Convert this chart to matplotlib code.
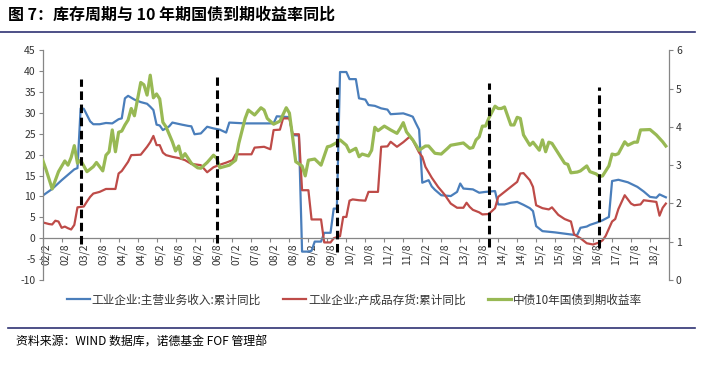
import matplotlib
matplotlib.use("Agg")
import matplotlib.pyplot as plt
import matplotlib.transforms as mtransforms
from matplotlib.lines import Line2D
import pandas as pd

plt.rcParams["font.family"] = ["Noto Sans CJK SC", "DejaVu Sans"]
plt.rcParams["axes.unicode_minus"] = False

START = pd.Period("2002-02", freq="M")

# 工业企业:主营业务收入:累计同比 (%)
rev_dates = [
    "2002-02", "2002-05", "2002-08", "2002-12", "2003-01", "2003-02", "2003-03", "2003-05",
    "2003-06", "2003-08", "2003-10", "2003-12", "2004-02", "2004-03", "2004-04", "2004-05",
    "2004-07", "2004-09", "2004-11", "2004-12", "2005-01", "2005-02", "2005-03", "2005-04",
    "2005-06", "2005-07", "2005-10", "2005-12", "2006-01", "2006-02", "2006-04", "2006-06",
    "2006-08", "2006-10", "2006-12", "2007-01", "2007-06", "2008-03", "2008-04", "2008-08",
    "2008-09", "2008-11", "2008-12", "2009-02", "2009-03", "2009-04", "2009-06", "2009-07",
    "2009-09", "2009-10", "2009-11", "2009-12", "2010-02", "2010-03", "2010-05", "2010-06",
    "2010-08", "2010-09", "2010-11", "2011-01", "2011-03", "2011-04", "2011-08", "2011-10",
    "2011-11", "2011-12", "2012-01", "2012-02", "2012-03", "2012-04", "2012-05", "2012-06",
    "2012-08", "2012-11", "2013-01", "2013-02", "2013-03", "2013-06", "2013-08", "2013-10",
    "2014-01", "2014-02", "2014-04", "2014-06", "2014-08", "2014-10", "2014-12", "2015-01",
    "2015-02", "2015-04", "2015-08", "2015-11", "2016-02", "2016-03", "2016-04", "2016-06",
    "2016-07", "2016-09", "2016-11", "2017-01", "2017-02", "2017-04", "2017-07", "2017-10",
    "2017-12", "2018-02", "2018-04", "2018-05", "2018-07",
]
rev_values = [
    10.2, 11.8, 13.9, 16.5, 16.8, 31.1, 31.0, 28.0,
    27.3, 27.3, 27.6, 27.5, 28.5, 28.7, 33.5, 34.1,
    33.2, 32.6, 32.2, 31.5, 30.7, 27.2, 27.0, 25.9,
    26.8, 27.7, 27.2, 26.9, 26.8, 24.9, 25.1, 26.7,
    26.3, 26.0, 25.3, 27.7, 27.5, 27.5, 29.2, 29.0,
    24.7, 24.6, -3.2, -3.2, -3.0, -0.8, -0.8, 1.3,
    1.3, 7.1, 7.1, 39.8, 39.8, 38.1, 38.1, 33.5,
    33.2, 31.9, 31.7, 31.1, 30.8, 29.7, 29.9, 29.4,
    29.1, 27.5, 26.0, 13.3, 13.6, 13.9, 12.4, 11.6,
    10.3, 10.1, 11.1, 13.1, 11.9, 11.7, 10.9, 11.1,
    11.3, 8.1, 8.1, 8.5, 8.7, 8.0, 7.2, 6.5,
    2.9, 1.7, 1.4, 1.1, 0.8, 0.8, 2.5, 2.8,
    3.2, 3.7, 4.3, 5.1, 13.7, 14.0, 13.4, 12.3,
    11.2, 9.9, 9.7, 10.5, 9.8,
]

# 工业企业:产成品存货:累计同比 (%)
inv_dates = [
    "2002-02", "2002-04", "2002-05", "2002-06", "2002-07", "2002-08", "2002-09", "2002-10",
    "2002-11", "2002-12", "2003-01", "2003-03", "2003-04", "2003-05", "2003-06", "2003-08",
    "2003-10", "2004-01", "2004-02", "2004-03", "2004-05", "2004-06", "2004-09", "2004-11",
    "2004-12", "2005-01", "2005-02", "2005-03", "2005-04", "2005-05", "2005-07", "2005-09",
    "2005-11", "2006-01", "2006-04", "2006-06", "2006-08", "2006-10", "2006-12", "2007-02",
    "2007-03", "2007-08", "2007-09", "2007-12", "2008-02", "2008-03", "2008-05", "2008-06",
    "2008-08", "2008-09", "2008-11", "2008-12", "2009-02", "2009-03", "2009-06", "2009-07",
    "2009-09", "2009-10", "2009-12", "2010-01", "2010-02", "2010-03", "2010-04", "2010-06",
    "2010-08", "2010-09", "2010-12", "2011-01", "2011-03", "2011-04", "2011-06", "2011-08",
    "2011-10", "2011-11", "2011-12", "2012-01", "2012-02", "2012-03", "2012-05", "2012-07",
    "2012-09", "2012-11", "2013-01", "2013-03", "2013-04", "2013-05", "2013-06", "2013-08",
    "2013-09", "2013-11", "2014-01", "2014-02", "2014-04", "2014-06", "2014-08", "2014-09",
    "2014-10", "2014-12", "2015-01", "2015-02", "2015-04", "2015-06", "2015-07", "2015-09",
    "2015-11", "2016-01", "2016-02", "2016-04", "2016-06", "2016-08", "2016-10", "2016-11",
    "2016-12", "2017-02", "2017-03", "2017-04", "2017-06", "2017-08", "2017-09", "2017-11",
    "2017-12", "2018-04", "2018-05", "2018-06", "2018-07",
]
inv_values = [
    3.8, 3.4, 3.3, 4.2, 4.0, 2.5, 2.8, 2.4,
    2.1, 3.2, 7.4, 7.6, 8.8, 9.9, 10.7, 11.1,
    11.8, 11.8, 15.5, 16.1, 18.3, 19.9, 20.0, 21.9,
    23.0, 24.5, 22.3, 22.3, 20.5, 19.9, 19.5, 19.2,
    18.7, 17.8, 17.5, 15.8, 17.0, 17.6, 18.1, 18.7,
    20.1, 20.1, 21.7, 21.9, 21.3, 25.9, 26.0, 28.7,
    28.7, 24.9, 24.9, 11.5, 11.5, 4.5, 4.5, -1.0,
    -1.0, 0.0, 0.5, 5.1, 5.1, 9.0, 9.3, 9.1,
    9.0, 11.1, 11.1, 21.9, 22.0, 23.1, 21.9, 23.0,
    24.3, 23.5, 22.0, 20.5, 19.5, 17.1, 14.5, 12.3,
    10.5, 8.3, 7.3, 7.3, 8.5, 7.5, 6.8, 6.2,
    5.7, 5.8, 7.2, 9.9, 11.1, 12.3, 13.5, 15.5,
    15.6, 13.9, 12.3, 7.9, 7.2, 6.9, 7.4, 5.6,
    4.6, 4.0, 0.9, 0.0, -1.2, -1.5, -1.0, -0.5,
    0.6, 4.0, 4.6, 7.0, 10.3, 8.3, 7.9, 8.1,
    9.1, 8.7, 5.4, 7.3, 8.3,
]

# 中债10年国债到期收益率 (%, right axis)
bond_dates = [
    "2002-02", "2002-03", "2002-05", "2002-07", "2002-09", "2002-10", "2002-11", "2002-12",
    "2003-01", "2003-02", "2003-04", "2003-06", "2003-07", "2003-09", "2003-10", "2003-11",
    "2003-12", "2004-01", "2004-02", "2004-03", "2004-04", "2004-05", "2004-06", "2004-07",
    "2004-09", "2004-10", "2004-11", "2004-12", "2005-01", "2005-02", "2005-03", "2005-04",
    "2005-05", "2005-07", "2005-08", "2005-09", "2005-10", "2005-11", "2006-01", "2006-03",
    "2006-04", "2006-06", "2006-08", "2006-09", "2006-10", "2007-01", "2007-03", "2007-04",
    "2007-06", "2007-07", "2007-09", "2007-11", "2007-12", "2008-01", "2008-03", "2008-05",
    "2008-07", "2008-08", "2008-09", "2008-10", "2008-12", "2009-01", "2009-02", "2009-04",
    "2009-06", "2009-08", "2009-09", "2009-11", "2009-12", "2010-02", "2010-03", "2010-05",
    "2010-06", "2010-07", "2010-09", "2010-10", "2010-11", "2010-12", "2011-02", "2011-04",
    "2011-06", "2011-07", "2011-08", "2011-09", "2011-11", "2012-01", "2012-03", "2012-04",
    "2012-06", "2012-08", "2012-10", "2012-11", "2013-01", "2013-03", "2013-05", "2013-06",
    "2013-07", "2013-08", "2013-09", "2013-10", "2013-11", "2014-01", "2014-02", "2014-03",
    "2014-04", "2014-06", "2014-07", "2014-08", "2014-09", "2014-10", "2014-12", "2015-01",
    "2015-03", "2015-04", "2015-05", "2015-06", "2015-07", "2015-09", "2015-11", "2015-12",
    "2016-01", "2016-03", "2016-04", "2016-06", "2016-07", "2016-09", "2016-10", "2016-11",
    "2016-12", "2017-01", "2017-02", "2017-03", "2017-04", "2017-06", "2017-07", "2017-09",
    "2017-10", "2017-11", "2018-02", "2018-04", "2018-06", "2018-07",
]
bond_values = [
    3.13, 2.90, 2.38, 2.83, 3.11, 3.00, 3.20, 3.51,
    3.05, 3.13, 2.83, 2.96, 3.07, 2.85, 3.26, 3.35,
    3.92, 3.35, 3.86, 3.89, 4.05, 4.18, 4.48, 4.29,
    5.16, 5.10, 4.83, 5.35, 4.76, 4.86, 4.73, 4.12,
    4.00, 3.61, 3.37, 3.50, 3.18, 3.30, 3.05, 2.93,
    2.92, 3.07, 3.26, 3.18, 2.93, 3.00, 3.13, 3.57,
    4.22, 4.44, 4.31, 4.50, 4.44, 4.22, 4.07, 4.15,
    4.50, 4.36, 3.74, 3.09, 2.98, 2.72, 3.13, 3.16,
    3.00, 3.48, 3.50, 3.59, 3.66, 3.52, 3.35, 3.44,
    3.22, 3.29, 3.24, 3.39, 3.99, 3.90, 4.02, 3.92,
    3.83, 3.96, 4.11, 3.87, 3.66, 3.39, 3.50, 3.50,
    3.31, 3.29, 3.44, 3.52, 3.55, 3.58, 3.44, 3.46,
    3.66, 3.74, 4.02, 4.02, 4.22, 4.54, 4.48, 4.48,
    4.52, 4.05, 4.05, 4.25, 4.22, 3.79, 3.52, 3.60,
    3.39, 3.66, 3.35, 3.60, 3.57, 3.31, 3.05, 3.02,
    2.80, 2.82, 2.85, 2.98, 2.83, 2.77, 2.70, 2.72,
    2.85, 2.98, 3.29, 3.27, 3.30, 3.61, 3.52, 3.60,
    3.60, 3.92, 3.93, 3.79, 3.61, 3.50,
]

# inventory cycle turning points (dashed markers), in left-axis units
cycle_dates = ["2003-02", "2006-09", "2009-11", "2013-11", "2016-10"]
cycle_top = [38.1, 38.5, 36.2, 37.2, 36.2]
cycle_bottom = [-1.4, -1.2, -3.2, -2.0, -2.4]

tick_labels = [
    "02/2", "02/8", "03/2", "03/8", "04/2", "04/8", "05/2", "05/8", "06/2", "06/8",
    "07/2", "07/8", "08/2", "08/8", "09/2", "09/8", "10/2", "10/8", "11/2", "11/8",
    "12/2", "12/8", "13/2", "13/8", "14/2", "14/8", "15/2", "15/8", "16/2", "16/8",
    "17/2", "17/8", "18/2",
]

BLUE = "#4A7EBB"
RED = "#BE4B48"
GREEN = "#98B954"
GREY = "#868686"


def month_pos(dates):
    periods = pd.PeriodIndex(dates, freq="M")
    return (periods.year - START.year) * 12 + (periods.month - START.month)


def label_pos(labels):
    out = []
    for label in labels:
        yy, mm = label.split("/")
        out.append((2000 + int(yy) - START.year) * 12 + int(mm) - START.month)
    return out


fig = plt.figure(figsize=(7.02, 3.68), dpi=100)
ax = fig.add_axes([0.0608, 0.2391, 0.8922, 0.6242])
ax2 = ax.twinx()

ax.plot(month_pos(rev_dates), rev_values, color=BLUE, lw=1.6, label="工业企业:主营业务收入:累计同比")
ax.plot(month_pos(inv_dates), inv_values, color=RED, lw=1.6, label="工业企业:产成品存货:累计同比")
ax2.plot(month_pos(bond_dates), bond_values, color=GREEN, lw=2.3, label="中债10年国债到期收益率")

for x, top, bottom in zip(month_pos(cycle_dates), cycle_top, cycle_bottom):
    ax2.plot([x, x], [bottom, top], color="black", lw=2.2, linestyle=(0, (2.8, 1.5)),
             transform=ax.transData, zorder=5)

ax.set_xlim(0, 198)
ax.set_ylim(-10, 45)
ax.set_yticks(range(-10, 50, 5))
ax2.set_ylim(0, 6)
ax2.set_yticks(range(0, 7))

ax.set_xticks(label_pos(tick_labels))
ax.set_xticklabels(tick_labels)
ax.spines["bottom"].set_position(("data", 0))

for a in (ax, ax2):
    a.spines["top"].set_visible(False)
    for side in ("left", "right", "bottom"):
        a.spines[side].set_color(GREY)
        a.spines[side].set_linewidth(0.9)
    a.tick_params(colors=GREY, labelcolor="#333333", labelsize=7.5, length=3, width=0.8, pad=2)
ax.spines["right"].set_visible(False)
ax2.spines["left"].set_visible(False)
ax2.spines["bottom"].set_visible(False)
ax.tick_params(axis="x", labelrotation=90, pad=1)

# Excel draws the category labels a little right of their tick marks
shift = mtransforms.ScaledTranslation(3.5 / 100, 0, fig.dpi_scale_trans)
for lab in ax.get_xticklabels():
    lab.set_transform(lab.get_transform() + shift)

handles = ax.get_lines()[:2] + ax2.get_lines()[:1]
fig.legend(handles, [h.get_label() for h in handles], loc="center left",
           bbox_to_anchor=(56 / 702, 1 - 300 / 368), ncol=3, frameon=False,
           fontsize=8.4, handlelength=2.0, handletextpad=0.15, columnspacing=1.9,
           labelcolor="#333333")

fig.text(8 / 702, 1 - 15 / 368, "图 7：库存周期与 10 年期国债到期收益率同比",
         fontsize=11.5, fontweight="bold", style="italic", va="center", ha="left")
fig.add_artist(Line2D([0, 695 / 702], [1 - 31.5 / 368] * 2, color="#2F3273", lw=1.2))
fig.add_artist(Line2D([8 / 702, 695 / 702], [1 - 328 / 368] * 2, color="#2F3273", lw=1.2))
fig.text(16 / 702, 1 - 342 / 368, "资料来源：WIND 数据库，诺德基金 FOF 管理部",
         fontsize=8.6, style="italic", va="center", ha="left")

fig.savefig("out.png", dpi=100)
